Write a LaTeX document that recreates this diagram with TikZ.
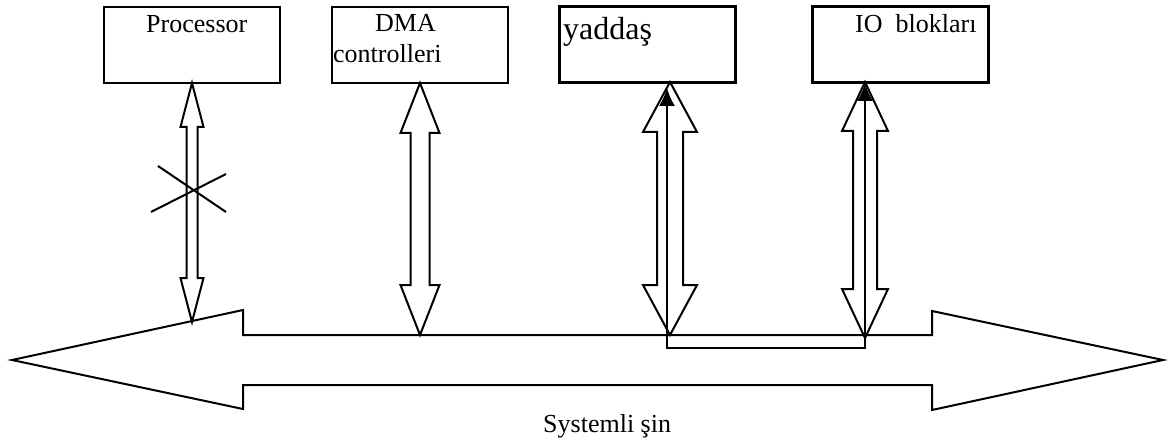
\documentclass[tikz,border=0pt]{standalone}
\usepackage{fontspec}
\setmainfont{Liberation Serif}
\usetikzlibrary{arrows.meta}

% hollow vertical double arrow: centre x, top y, bottom y, shaft half width,
% head half width, head length
\newcommand{\hollowvarrow}[6]{%
  \draw[link] (#1,#2) -- (#1+#5,#2+#6) -- (#1+#4,#2+#6) -- (#1+#4,#3-#6)
    -- (#1+#5,#3-#6) -- (#1,#3) -- (#1-#5,#3-#6) -- (#1-#4,#3-#6)
    -- (#1-#4,#2+#6) -- (#1-#5,#2+#6) -- cycle;}

\begin{document}
\begin{tikzpicture}[x=1pt,y=-1pt,
  unitbox/.style={draw,line width=2pt,inner sep=0pt,minimum width=176pt,minimum height=76pt},
  heavybox/.style={unitbox,line width=3pt},
  link/.style={draw,line width=2pt,line join=miter},
  txt/.style={inner sep=0pt,anchor=base west,font=\fontsize{26}{30}\selectfont},
  bigtxt/.style={txt,font=\fontsize{32}{36}\selectfont},
  signal/.style={line width=2pt,{Latex[length=18pt,width=16pt]}-{Latex[length=18pt,width=16pt]}}]
\useasboundingbox (0,0) rectangle (1170,441);

% units on the bus
\node[unitbox] (proc) at (192,45) {};
\node[unitbox] (dma) at (420,45) {};
\node[heavybox] (mem) at (647.5,44.5) {};
\node[heavybox] (io) at (900,44.5) {};

\node[txt] (proct) at (146,33) {Processor};
\node[txt] (dmat1) at (375,32) {DMA};
\node[txt] (dmat2) at (333,63) {controlleri};
\node[bigtxt] (memt) at (563,40) {yaddaş};
\node[txt] (iot) at (855,33) {IO\ \ blokları};

% system bus
\draw[link] (12,360) -- (243,310) -- (243,335) -- (932,335) -- (932,311)
  -- (1163,360) -- (932,410) -- (932,385) -- (243,385) -- (243,409) -- cycle;
\node[txt] (bust) at (543,432) {Systemli şin};

% data paths between units and the bus
\hollowvarrow{192}{83}{322}{5.5}{11.5}{44}
\hollowvarrow{420}{83}{335}{9.5}{19.5}{50}
\hollowvarrow{670}{82}{335}{13}{27}{50}
\hollowvarrow{865}{82}{338}{12}{23}{49}

% processor path disabled
\draw[line width=2pt] (158,166) -- (226,212);
\draw[line width=2pt] (151,212) -- (226,174);

% direct memory <-> IO transfer
\coordinate (memin) at (667,88);
\coordinate (ioin) at (865,83);
\draw[signal] (memin) -- (667,348) -- (865,348) -- (ioin);
\end{tikzpicture}
\end{document}
